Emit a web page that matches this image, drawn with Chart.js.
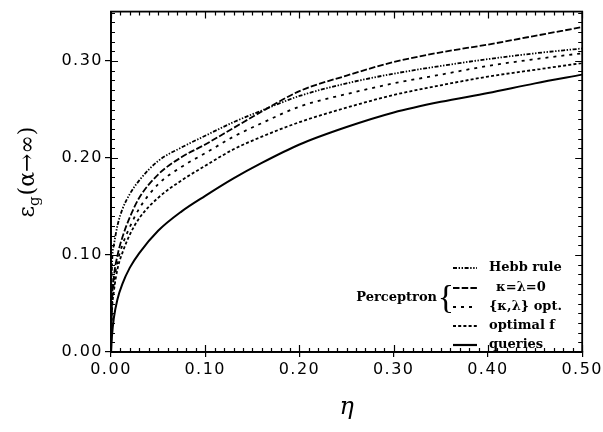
<!DOCTYPE html>
<html>
<head>
<meta charset="utf-8">
<script src="https://cdn.jsdelivr.net/npm/chart.js@4/dist/chart.umd.min.js"></script>
<style>
  html, body { margin: 0; padding: 0; background: #fff; }
  #wrap { width: 603px; height: 432px; position: relative; }
</style>
</head>
<body>
<div id="wrap"><canvas id="c" width="603" height="432"></canvas></div>
<script>
// ---- data ----
const eta      = [0, 0.001, 0.003, 0.007, 0.012, 0.02, 0.03, 0.05, 0.075, 0.1, 0.13, 0.16, 0.2, 0.25, 0.3, 0.35, 0.4, 0.45, 0.5];
const hebbRule = [0, 0.087, 0.110, 0.131, 0.147, 0.163, 0.177, 0.197, 0.211, 0.223, 0.237, 0.249, 0.264, 0.277, 0.287, 0.295, 0.302, 0.308, 0.313];
const kappaLambdaZero = [0, 0.05, 0.077, 0.100, 0.118, 0.139, 0.159, 0.183, 0.201, 0.214, 0.231, 0.248, 0.269, 0.285, 0.299, 0.309, 0.317, 0.326, 0.335];
const kappaLambdaOpt  = [0, 0.045, 0.07, 0.093, 0.110, 0.129, 0.148, 0.173, 0.191, 0.205, 0.222, 0.236, 0.253, 0.266, 0.277, 0.286, 0.295, 0.302, 0.308];
const optimalF = [0, 0.04, 0.062, 0.086, 0.102, 0.121, 0.138, 0.159, 0.177, 0.192, 0.209, 0.222, 0.237, 0.252, 0.265, 0.275, 0.284, 0.291, 0.298];
const queries  = [0, 0.016, 0.035, 0.055, 0.07, 0.087, 0.102, 0.125, 0.145, 0.161, 0.179, 0.195, 0.214, 0.232, 0.247, 0.258, 0.267, 0.277, 0.286];
const seriesLabels = ['Hebb rule', 'κ=λ=0', '{κ,λ} opt.', 'optimal f', 'queries'];
const xTickValues = [0, 0.1, 0.2, 0.3, 0.4, 0.5];
const yTickValues = [0, 0.1, 0.2, 0.3];
const groupLabel = 'Perceptron';
const xTitle = 'η';

// ---- styling ----
const dashes = [
  [4, 1.6, 1.4, 1.6, 1.4, 1.6],
  [6.5, 2.2],
  [3, 5],
  [3, 2.2],
  []
];
const seriesData = [hebbRule, kappaLambdaZero, kappaLambdaOpt, optimalF, queries];

const datasets = seriesData.map((arr, i) => ({
  label: seriesLabels[i],
  data: eta.map((e, k) => ({ x: e, y: arr[k] })),
  borderColor: '#000',
  borderWidth: i === 4 ? 2 : 1.8,
  borderDash: dashes[i],
  pointRadius: 0,
  fill: false,
  cubicInterpolationMode: 'monotone'
}));

const spacingPlugin = {
  id: 'spacing',
  beforeDraw(chart) { chart.ctx.letterSpacing = '1.5px'; },
  beforeDatasetsDraw(chart) { chart.ctx.letterSpacing = '0px'; }
};

const framePlugin = {
  id: 'frame',
  afterDatasetsDraw(chart) {
    const { ctx, chartArea: { left, right, top, bottom }, scales: { x, y } } = chart;
    ctx.save();
    ctx.strokeStyle = '#000';
    ctx.lineWidth = 1.2;
    ctx.beginPath();
    for (let i = 0; i <= 50; i++) {
      const px = Math.round(x.getPixelForValue(i / 100)) + 0.5;
      const len = (i % 10 === 0) ? 7 : 4;
      ctx.moveTo(px, bottom); ctx.lineTo(px, bottom - len);
      ctx.moveTo(px, top); ctx.lineTo(px, top + len);
    }
    for (let i = 0; i <= 40; i++) {
      const py = Math.round(y.getPixelForValue(i / 100)) + 0.5;
      if (py < top) continue;
      const len = (i % 10 === 0) ? 7 : 4;
      ctx.moveTo(left, py); ctx.lineTo(left + len, py);
      ctx.moveTo(right, py); ctx.lineTo(right - len, py);
    }
    ctx.stroke();
    ctx.lineWidth = 1.8;
    ctx.strokeRect(left, top, right - left, bottom - top);
    ctx.restore();
  },
  afterDraw(chart) {
    const { ctx, chartArea: { left, right } } = chart;
    ctx.save();
    ctx.fillStyle = '#000';
    // legend
    const rowY = [268, 288, 307, 326, 345];
    const mx0 = 453, mx1 = 477, tx = 489;
    ctx.font = 'bold 13px "DejaVu Serif"';
    ctx.textBaseline = 'middle';
    ctx.textAlign = 'left';
    chart.data.datasets.forEach((ds, i) => {
      ctx.strokeStyle = '#000';
      ctx.lineWidth = i === 4 ? 2.2 : 2;
      ctx.setLineDash(ds.borderDash);
      ctx.beginPath();
      ctx.moveTo(mx0, rowY[i]); ctx.lineTo(mx1, rowY[i]);
      ctx.stroke();
      ctx.setLineDash([]);
      ctx.fillText(ds.label, i === 1 ? tx + 7 : tx, rowY[i]);
    });
    ctx.textAlign = 'right';
    ctx.fillText(groupLabel, 437, 298);
    ctx.font = '34px "Liberation Serif"';
    ctx.textAlign = 'center';
    ctx.fillText('{', 446, 299);

    // x title
    ctx.font = 'italic 24px "DejaVu Serif"';
    ctx.textAlign = 'center';
    ctx.textBaseline = 'middle';
    ctx.fillText(xTitle, (left + right) / 2, 408);

    // y title  εg(α→∞)
    ctx.translate(28, 172);
    ctx.rotate(-Math.PI / 2);
    const big = '22px "DejaVu Serif"', small = '15px "DejaVu Serif"';
    ctx.textAlign = 'left';
    ctx.textBaseline = 'middle';
    ctx.font = big; const w1 = ctx.measureText('ε').width;
    ctx.font = small; const w2 = ctx.measureText('g').width;
    ctx.font = big; const w3 = ctx.measureText('(α→∞)').width;
    let sx = -(w1 + w2 + w3 + 1) / 2;
    ctx.font = big; ctx.fillText('ε', sx, 0); sx += w1;
    ctx.font = small; ctx.fillText('g', sx, 7); sx += w2 + 1;
    ctx.font = big; ctx.fillText('(α→∞)', sx, 0);
    ctx.restore();
  }
};

new Chart(document.getElementById('c'), {
  type: 'line',
  data: { datasets },
  options: {
    responsive: false,
    animation: false,
    devicePixelRatio: 1,
    layout: { padding: { left: 0, right: 20, top: 8, bottom: 0 } },
    plugins: { legend: { display: false }, tooltip: { enabled: false } },
    scales: {
      x: {
        type: 'linear', min: 0, max: 0.5,
        afterFit(s) { s.height = 80; },
        afterBuildTicks(s) { s.ticks = xTickValues.map(v => ({ value: v })); },
        ticks: { callback: v => Number(v).toFixed(2), color: '#000', font: { family: 'DejaVu Sans', size: 16 }, padding: 3, maxRotation: 0, autoSkip: false },
        grid: { display: true, drawOnChartArea: false, drawTicks: true, tickLength: 5, color: '#000', lineWidth: 1.2 },
        border: { display: true, color: '#000', width: 1.8 }
      },
      y: {
        type: 'linear', min: 0, max: 0.351,
        afterFit(s) { s.width = 111; },
        afterBuildTicks(s) { s.ticks = yTickValues.map(v => ({ value: v })); },
        ticks: { callback: v => Number(v).toFixed(2), color: '#000', font: { family: 'DejaVu Sans', size: 16 }, padding: 2, autoSkip: false },
        grid: { display: true, drawOnChartArea: false, drawTicks: true, tickLength: 6, color: '#000', lineWidth: 1.2 },
        border: { display: true, color: '#000', width: 1.8 }
      }
    }
  },
  plugins: [spacingPlugin, framePlugin]
});
</script>
</body>
</html>
